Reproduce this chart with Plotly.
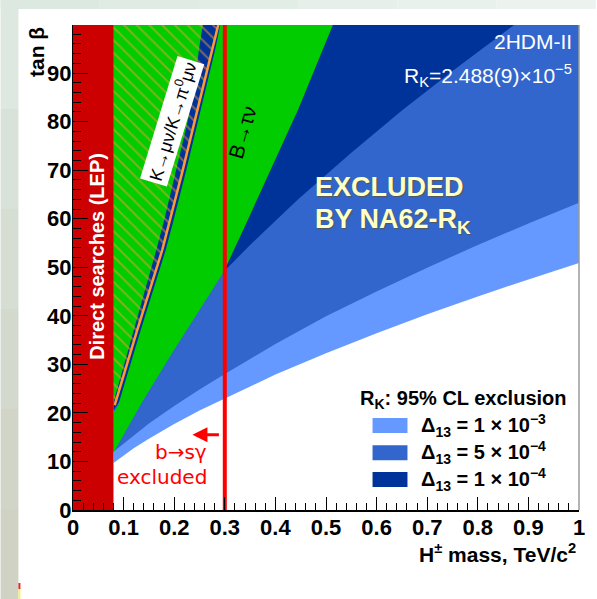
import plotly.graph_objects as go

# ---------------- data ----------------
lep_mass_limit = 0.08        # direct searches (LEP), TeV/c^2
bsg_mass_limit = 0.3         # b -> s gamma
tanb_top = 100

# R_K exclusion lower boundaries (tan beta vs H+ mass)
light_mass = [0.08, 0.12, 0.15, 0.2, 0.25, 0.3, 0.4, 0.5, 0.6, 0.7, 0.8, 0.9, 1.0]
light_tanb = [9.7, 12.7, 14.7, 17.7, 20.5, 23.0, 27.9, 32.3, 36.4, 40.3, 44.0, 47.5, 50.9]
medium_mass = [0.08, 0.12, 0.15, 0.2, 0.25, 0.3, 0.4, 0.5, 0.6, 0.7, 0.8, 0.9, 1.0]
medium_tanb = [12.0, 15.4, 17.8, 21.4, 24.8, 28.0, 34.2, 39.9, 45.0, 49.9, 54.6, 59.0, 63.3]
dark_mass = [0.08, 0.15, 0.2, 0.298, 0.35, 0.445, 0.55, 0.65, 0.75, 0.873]
dark_tanb = [20.5, 31.2, 37.7, 49.1, 54.6, 64.0, 73.6, 82.3, 90.4, 100]

# B -> tau nu excluded region boundary
btaunu_mass = [0.08, 0.137, 0.2, 0.265, 0.298, 0.34, 0.382, 0.445, 0.514]
btaunu_tanb = [11.8, 22.3, 33.0, 43.5, 49.1, 58.5, 68.0, 82.5, 100]

# K -> mu nu / K -> pi mu nu boundary and the allowed band around it
kmunu_tanb = [21.6, 37.1, 53.6, 59.8, 70, 80.4, 85, 90, 95, 100]
kmunu_mass = [0.0824, 0.127, 0.1765, 0.192, 0.2169, 0.2412, 0.252, 0.2637, 0.2755, 0.2873]
band_left_mass = [0.0784, 0.1206, 0.1647, 0.1804, 0.2041, 0.2274, 0.2353, 0.2431, 0.2490, 0.2568]
band_right_mass = [0.0892, 0.1339, 0.1834, 0.1990, 0.2238, 0.2481, 0.2588, 0.2700, 0.2814, 0.2912]

legend_labels = ["Δ<sub>13</sub> = 1 × 10<sup>−3</sup>",
                 "Δ<sub>13</sub> = 5 × 10<sup>−4</sup>",
                 "Δ<sub>13</sub> = 1 × 10<sup>−4</sup>"]

# ---------------- styles ----------------
C_LIGHT = "#6699ff"
C_MED = "#3366cc"
C_DARK = "#003399"
C_GREEN = "#00cc00"
C_LEP = "#cc0000"
C_RED = "#ff0000"
C_ORANGE = "#ff9933"
FONT = "Liberation Sans, DejaVu Sans"


def poly(x, y, color, **kw):
    return go.Scatter(x=x, y=y, fill="toself", fillcolor=color, mode="lines",
                      line=dict(width=0, color=color), hoverinfo="skip",
                      showlegend=False, **kw)


fig = go.Figure()
lo = lep_mass_limit - 0.01

# R_K regions
fig.add_trace(poly(light_mass + [light_mass[-1], light_mass[0]],
                   light_tanb + [tanb_top, tanb_top], C_LIGHT))
fig.add_trace(poly(medium_mass + [medium_mass[-1], medium_mass[0]],
                   medium_tanb + [tanb_top, tanb_top], C_MED))
fig.add_trace(poly(dark_mass + [dark_mass[0]],
                   dark_tanb + [tanb_top], C_DARK))

# B -> tau nu excluded (green), right of the band
fig.add_trace(poly(btaunu_mass + band_right_mass[::-1] + [lep_mass_limit],
                   btaunu_tanb + kmunu_tanb[::-1] + [kmunu_tanb[0] - 1.6], C_GREEN))
# green, left of the band
fig.add_trace(poly(band_left_mass + [lo, lo],
                   kmunu_tanb + [tanb_top, kmunu_tanb[0]], C_GREEN))

# K -> mu nu hatched exclusion
fig.add_trace(go.Scatter(
    x=kmunu_mass + [lo, lo], y=kmunu_tanb + [tanb_top, kmunu_tanb[0]],
    fill="toself", fillcolor="rgba(0,0,0,0)", mode="lines",
    line=dict(width=0, color="rgba(0,0,0,0)"),
    fillpattern=dict(shape="\\", fgcolor=C_ORANGE, bgcolor="rgba(0,0,0,0)",
                     size=9, solidity=0.22),
    hoverinfo="skip", showlegend=False))
fig.add_trace(go.Scatter(x=kmunu_mass, y=kmunu_tanb, mode="lines",
                         line=dict(color=C_ORANGE, width=2.5),
                         hoverinfo="skip", showlegend=False))

# LEP direct searches
fig.add_trace(poly([0, lep_mass_limit, lep_mass_limit, 0],
                   [0, 0, tanb_top, tanb_top], C_LEP))
# b -> s gamma line
fig.add_trace(go.Scatter(x=[bsg_mass_limit, bsg_mass_limit], y=[0, tanb_top],
                         mode="lines", line=dict(color=C_RED, width=4),
                         hoverinfo="skip", showlegend=False))

ann = []


def text(x, y, s, size, color="black", bold=False, angle=0, xanchor="center",
         yanchor="middle", xref="x", yref="y", family=FONT, **kw):
    if bold:
        s = "<b>" + s + "</b>"
    ann.append(dict(x=x, y=y, xref=xref, yref=yref, text=s, showarrow=False,
                    textangle=angle, xanchor=xanchor, yanchor=yanchor,
                    font=dict(family=family, size=size, color=color), **kw))


text(0.047, 52.3, "Direct searches (LEP)", 20, "white", True, -90)
text(0.196, 80.0, "K→μν/K→π<sup>0</sup>μν", 18, "black", False, -73,
     bgcolor="white", borderpad=2)
text(0.335, 77.7, "B→τν", 21, "black", False, -74)
text(0.99, 96.4, "2HDM-II", 21, "white", False, 0, xanchor="right")
text(0.99, 89.5, "R<sub>K</sub>=2.488(9)×10<sup>−5</sup>", 21, "white", False, 0,
     xanchor="right")
ann.append(dict(x=0.625, y=66.6, xref="x", yref="y", showarrow=False,
                text="<b>EXCLUDED</b>",
                font=dict(family=FONT, size=27, color="#ffffc8",
                          shadow="1px 1px 1px #555555")))
ann.append(dict(x=0.633, y=59.5, xref="x", yref="y", showarrow=False,
                text="<b>BY NA62-R<sub>K</sub></b>",
                font=dict(family=FONT, size=27, color="#ffffc8",
                          shadow="1px 1px 1px #555555")))

# b -> s gamma annotation
text(0.2686, 12.0, "b→sγ", 20, C_RED, False, 0, xanchor="right",
     family="DejaVu Sans")
text(0.2686, 6.8, "excluded", 20, C_RED, False, 0, xanchor="right",
     family="DejaVu Sans")
ann.append(dict(x=0.236, y=15.5, xref="x", yref="y", ax=28, ay=0,
                axref="pixel", ayref="pixel", showarrow=True, arrowhead=2,
                arrowsize=1, arrowwidth=3, arrowcolor=C_RED, text=""))

# legend
text(0.563, 22.7, "R<sub>K</sub>: 95% CL exclusion", 20, "black", True, 0,
     xanchor="left")
leg_cols = [C_LIGHT, C_MED, C_DARK]
leg_y = [17.4, 11.8, 6.3]
shapes = []
for lab, col, yy in zip(legend_labels, leg_cols, leg_y):
    shapes.append(dict(type="rect", xref="x", yref="y", x0=0.592, x1=0.661,
                       y0=yy - 1.55, y1=yy + 1.55, fillcolor=col,
                       line=dict(width=0), layer="above"))
    text(0.684, yy, lab, 20, "black", True, 0, xanchor="left")

# axis titles
text(-0.0725, 0.945, "tan β", 21, "black", True, -90, xref="paper", yref="paper")
text(0.999, -0.089, "H<sup>±</sup> mass, TeV/c<sup>2</sup>", 21, "black", True, 0,
     xanchor="right", xref="paper", yref="paper")

# frame: right axis line
shapes.append(dict(type="line", xref="paper", yref="paper", x0=1, x1=1, y0=0, y1=1,
                   line=dict(color="#9a9a9a", width=1.5)))

# page background around the white canvas
PX_X = 1 / 510.0
PX_Y = 1 / 485.0


def px_rect(x0, y0, x1, y1, color):
    shapes.append(dict(type="rect", xref="paper", yref="paper",
                       x0=(x0 - 73) * PX_X, x1=(x1 - 73) * PX_X,
                       y0=(510 - y1) * PX_Y, y1=(510 - y0) * PX_Y,
                       fillcolor=color, line=dict(width=0), layer="above"))


top_cols = ["#dce9e1", "#dfebe3", "#e2ede6", "#e6efe9", "#e9f1ec", "#ecf3ee"]
for i, c in enumerate(top_cols):
    px_rect(i * 100, 0, (i + 1) * 100, 9, c)
left_cols = ["#dce8e0", "#d9e2d9", "#d6ddd3", "#d3d9cd", "#d1d5c8", "#d0d3c4"]
for i, c in enumerate(left_cols):
    px_rect(0, 9 + i * 100, 18, 9 + (i + 1) * 100, c)
px_rect(0, 0, 18, 9, "#dce8e0")
px_rect(18, 583, 20, 589, "#ee2222")
px_rect(18, 589, 20, 599, "#f4f070")

tickfont = dict(family="Liberation Sans", size=22, color="black", weight="bold")
fig.update_layout(
    width=597, height=599,
    margin=dict(l=73, r=14, t=25, b=89),
    paper_bgcolor="white", plot_bgcolor="white",
    showlegend=False,
    xaxis=dict(range=[0, 1], tick0=0, dtick=0.1, ticks="inside", ticklen=13,
               tickwidth=1, tickcolor="black",
               minor=dict(dtick=0.02, ticks="inside", ticklen=7, tickwidth=1,
                          tickcolor="black"),
               showline=True, linecolor="black", linewidth=1.5,
               showgrid=False, zeroline=False, tickfont=tickfont,
               ticklabelstandoff=-3),
    yaxis=dict(range=[0, 99.9], tick0=0, dtick=10, ticks="inside", ticklen=15,
               tickwidth=1, tickcolor="black",
               minor=dict(dtick=2, ticks="inside", ticklen=8, tickwidth=1,
                          tickcolor="black"),
               showline=True, linecolor="black", linewidth=1,
               showgrid=False, zeroline=False, tickfont=tickfont,
               ticklabelstandoff=-4),
    annotations=ann,
    shapes=shapes,
)

fig.write_html("out.html",
               config={"displayModeBar": False, "staticPlot": True},
               post_script="document.body.style.margin='0';"
                           "document.body.style.overflow='hidden';")
